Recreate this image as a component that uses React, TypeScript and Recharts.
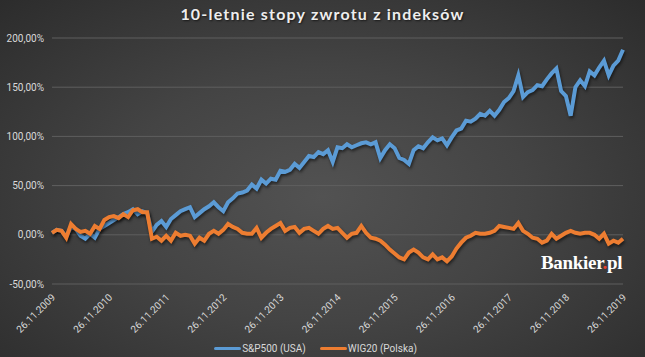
import { CartesianGrid, Legend, Line, LineChart, XAxis, YAxis } from 'recharts';

// monthly closes, % return since 26.11.2009
const sp500 = [
  2, 5, 4, -2, 8, 6, -1, -4, 1, -3, 6, 9,
  12, 15, 18, 21, 23, 26, 21, 24, 22, 3, 10, 14,
  8, 16, 20, 24, 26, 28, 18, 22, 26, 29, 33, 28,
  24, 33, 37, 42, 43, 45, 51, 47, 56, 52, 57, 56,
  65, 64, 66, 72, 68, 74, 80, 79, 84, 82, 86, 74,
  89, 88, 92, 89, 91, 93, 94, 92, 94, 78, 86, 92,
  88, 78, 76, 72, 86, 90, 88, 94, 99, 96, 98, 91,
  99, 106, 108, 116, 115, 118, 123, 121, 126, 121, 127, 135,
  139, 146, 162, 140, 145, 147, 152, 151, 158, 164, 169, 146,
  141, 121, 150, 157, 151, 166, 162, 170, 177, 162, 172, 177,
  188,
];

const wig20 = [
  2, 5, 4, -3, 11, 6, 3, 4, 1, 9, 6, 15,
  18, 19, 17, 21, 18, 25, 26, 23, 23, -4, -2, -6,
  -1, -6, 2, -1, 0, -1, -9, -3, -6, 1, 4, 1,
  5, 11, 8, 6, 2, 1, 1, 7, -3, 2, 6, 9,
  12, 4, 7, 8, 2, 6, 7, 4, 1, 6, 9, 6,
  7, 2, -3, 1, 2, 9, 2, -3, -4, -6, -10, -15,
  -19, -23, -25, -18, -15, -18, -23, -25, -20, -25, -23, -27,
  -22, -14, -8, -3, -1, 2, 1, 1, 2, 4, 9, 8,
  7, 6, 12, 4, 1, -3, -4, -8, -6, 1, -4, -1,
  2, 4, 2, 1, 2, 2, 0, -4, 1, -9, -6, -8,
  -4,
];

const yTicks = [-50, 0, 50, 100, 150, 200];

const dates = sp500.map((_, i) => {
  const m = ((10 + i) % 12) + 1;
  const y = 2009 + Math.floor((10 + i) / 12);
  return `26.${String(m).padStart(2, '0')}.${y}`;
});

const data = dates.map((date, i) => ({ date, sp: sp500[i], wig: wig20[i] }));

const labelColor = '#d9d9d9';
const font = 'Roboto, "Open Sans", sans-serif';

const fmtPct = (v: number) => `${v.toFixed(2).replace('.', ',')}%`;

function DateTick(props: any) {
  const { x, y, payload } = props;
  return (
    <text
      x={x + 4}
      y={y + 6}
      transform={`rotate(-45, ${x + 4}, ${y + 6})`}
      textAnchor="end"
      fill={labelColor}
      fontSize={10}
      fontFamily={font}
    >
      {payload.value}
    </text>
  );
}

function LegendBox({ payload }: any) {
  return (
    <div style={{ display: 'flex', justifyContent: 'center', gap: 14, fontFamily: font, fontSize: 10, color: labelColor, paddingBottom: 3 }}>
      {(payload || []).map((p: any) => (
        <div key={p.value} style={{ display: 'flex', alignItems: 'center' }}>
          <span style={{ display: 'inline-block', width: 27, height: 3, borderRadius: 2, background: p.color, marginRight: 1 }} />
          {p.value}
        </div>
      ))}
    </div>
  );
}

export default function App() {
  return (
    <div
      style={{
        position: 'absolute',
        left: 0,
        top: 0,
        width: 645,
        height: 357,
        background: 'radial-gradient(ellipse at 50% 55%, #525252 0%, #444 45%, #2c2c2c 100%)',
        overflow: 'hidden',
      }}
    >
      <div
        style={{
          position: 'absolute',
          top: 4,
          width: 645,
          textAlign: 'center',
          fontFamily: 'Lato, "Open Sans", sans-serif',
          fontWeight: 700,
          fontSize: 16,
          letterSpacing: 1.2,
          color: '#eeeeee',
          textShadow: '1px 1px 2px rgba(0,0,0,0.6)',
        }}
      >
        10-letnie stopy zwrotu z indeksów
      </div>
      <LineChart width={645} height={357} data={data} margin={{ top: 38, right: 22, left: 8, bottom: 0 }}>
        <CartesianGrid vertical={false} stroke="#5f5f5f" />
        <XAxis
          dataKey="date"
          interval={11}
          tick={<DateTick />}
          tickLine={false}
          axisLine={false}
          height={59}
        />
        <YAxis
          domain={[-50, 200]}
          ticks={yTicks}
          tickFormatter={fmtPct}
          tick={{ fill: labelColor, fontSize: 10, fontFamily: font }}
          axisLine={false}
          tickLine={false}
          width={44}
        />
        <Legend verticalAlign="bottom" content={<LegendBox />} />
        <Line
          type="linear"
          dataKey="sp"
          name="S&P500 (USA)"
          stroke="#5b9bd5"
          strokeWidth={4}
          dot={false}
          isAnimationActive={false}
          style={{ filter: 'drop-shadow(1px 2px 1.5px rgba(0,0,0,0.55))' }}
        />
        <Line
          type="linear"
          dataKey="wig"
          name="WIG20 (Polska)"
          stroke="#ed7d31"
          strokeWidth={4}
          dot={false}
          isAnimationActive={false}
          style={{ filter: 'drop-shadow(1px 2px 1.5px rgba(0,0,0,0.55))' }}
        />
      </LineChart>
      <div
        style={{
          position: 'absolute',
          left: 541,
          top: 252,
          fontFamily: '"Liberation Serif", "DejaVu Serif", serif',
          fontWeight: 700,
          fontSize: 19,
          color: '#ffffff',
          letterSpacing: -0.3,
        }}
      >
        Bankier<span style={{ color: '#e8412c' }}>.</span>pl
      </div>
    </div>
  );
}
